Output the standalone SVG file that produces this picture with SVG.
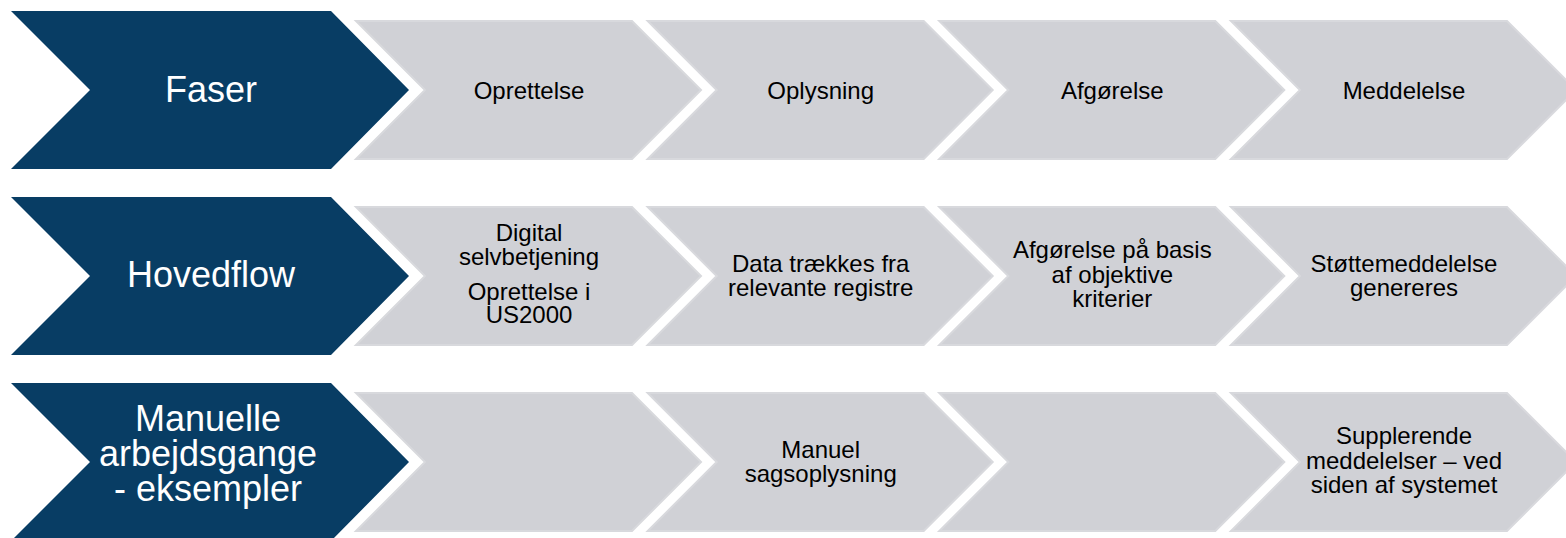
<svg xmlns="http://www.w3.org/2000/svg" width="1566" height="538" viewBox="0 0 1566 538">
<style>
.dark{fill:#083D64;}
.gray{fill:#D0D1D6;stroke:#D8D9DD;stroke-width:2;}
.lt{font-family:"Liberation Sans",Arial,sans-serif;font-size:36px;fill:#FFFFFF;text-anchor:middle;}
.gt{font-family:"Liberation Sans",Arial,sans-serif;font-size:24px;fill:#000000;text-anchor:middle;}
</style>
<defs>
<polygon id="dk" points="11,0 331,0 409,79 331,158 11,158 90,79"/>
<polygon id="gy" points="1,1 277,1 346,70 277,139 1,139 70,70"/>
</defs>
<rect width="1566" height="538" fill="#FFFFFF"/>
<g id="row1">
<g id="faser"><use href="#dk" class="dark" x="0" y="11"/><text class="lt" x="211" y="102">Faser</text></g>
<g id="oprettelse"><use href="#gy" class="gray" x="355" y="20"/><text class="gt" x="529" y="98.5">Oprettelse</text></g>
<g id="oplysning"><use href="#gy" class="gray" x="646.7" y="20"/><text class="gt" x="820.7" y="98.5">Oplysning</text></g>
<g id="afgorelse"><use href="#gy" class="gray" x="938.3" y="20"/><text class="gt" x="1112.3" y="98.5">Afgørelse</text></g>
<g id="meddelelse"><use href="#gy" class="gray" x="1230" y="20"/><text class="gt" x="1404" y="98.5">Meddelelse</text></g>
</g>
<g id="row2">
<g id="hovedflow"><use href="#dk" class="dark" x="0" y="197"/><text class="lt" x="211" y="287">Hovedflow</text></g>
<g id="digital"><use href="#gy" class="gray" x="355" y="206"/><text class="gt" x="529"><tspan x="529" y="241">Digital</tspan><tspan x="529" y="264.5">selvbetjening</tspan><tspan x="529" y="299.5">Oprettelse i</tspan><tspan x="529" y="323">US2000</tspan></text></g>
<g id="data"><use href="#gy" class="gray" x="646.7" y="206"/><text class="gt"><tspan x="820.7" y="271.5">Data trækkes fra</tspan><tspan x="820.7" y="295.5">relevante registre</tspan></text></g>
<g id="afgorelse2"><use href="#gy" class="gray" x="938.3" y="206"/><text class="gt"><tspan x="1112.3" y="258">Afgørelse på basis</tspan><tspan x="1112.3" y="282.5">af objektive</tspan><tspan x="1112.3" y="307">kriterier</tspan></text></g>
<g id="stotte"><use href="#gy" class="gray" x="1230" y="206"/><text class="gt"><tspan x="1404" y="271.5">Støttemeddelelse</tspan><tspan x="1404" y="295.5">genereres</tspan></text></g>
</g>
<g id="row3">
<g id="manuelle"><use href="#dk" class="dark" x="0" y="383"/><text class="lt"><tspan x="208" y="431">Manuelle</tspan><tspan x="208" y="466">arbejdsgange</tspan><tspan x="208" y="501">- eksempler</tspan></text></g>
<g id="empty1"><use href="#gy" class="gray" x="355" y="392"/></g>
<g id="manuel"><use href="#gy" class="gray" x="646.7" y="392"/><text class="gt"><tspan x="820.7" y="457.5">Manuel</tspan><tspan x="820.7" y="481.5">sagsoplysning</tspan></text></g>
<g id="empty2"><use href="#gy" class="gray" x="938.3" y="392"/></g>
<g id="supplerende"><use href="#gy" class="gray" x="1230" y="392"/><text class="gt"><tspan x="1404" y="444">Supplerende</tspan><tspan x="1404" y="468.5">meddelelser – ved</tspan><tspan x="1404" y="493">siden af systemet</tspan></text></g>
</g>
<g id="connectors"/>
</svg>
